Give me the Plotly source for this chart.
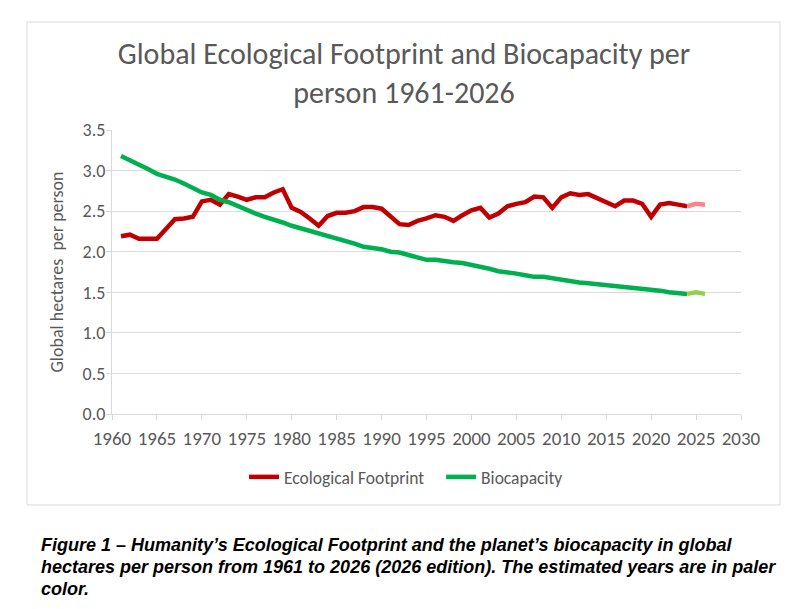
import plotly.graph_objects as go

years = list(range(1961, 2027))
footprint = [2.19, 2.21, 2.16, 2.16, 2.16, 2.28, 2.40, 2.41, 2.43, 2.62,
             2.64, 2.58, 2.71, 2.68, 2.64, 2.67, 2.67, 2.73, 2.77, 2.54,
             2.49, 2.41, 2.32, 2.44, 2.48, 2.48, 2.50, 2.55, 2.55, 2.53,
             2.44, 2.34, 2.33, 2.38, 2.41, 2.45, 2.43, 2.38, 2.45, 2.51,
             2.54, 2.42, 2.47, 2.56, 2.59, 2.61, 2.68, 2.67, 2.54, 2.67,
             2.72, 2.70, 2.71, 2.66, 2.60, 2.56, 2.63, 2.63, 2.59, 2.43,
             2.58, 2.60, 2.58, 2.56, 2.59, 2.58]
biocapacity = [3.18, 3.13, 3.07, 3.02, 2.96, 2.93, 2.89, 2.84, 2.78, 2.73,
               2.70, 2.64, 2.61, 2.56, 2.51, 2.47, 2.43, 2.40, 2.36, 2.32,
               2.29, 2.26, 2.22, 2.20, 2.17, 2.14, 2.10, 2.06, 2.05, 2.03,
               2.00, 1.99, 1.96, 1.93, 1.90, 1.90, 1.88, 1.87, 1.86, 1.84,
               1.82, 1.79, 1.76, 1.75, 1.73, 1.71, 1.69, 1.69, 1.67, 1.65,
               1.64, 1.62, 1.61, 1.60, 1.58, 1.58, 1.57, 1.55, 1.54, 1.53,
               1.52, 1.50, 1.49, 1.48, 1.50, 1.48]
last_measured = 2024
x_ticks = list(range(1960, 2031, 5))
y_ticks = [0.0, 0.5, 1.0, 1.5, 2.0, 2.5, 3.0, 3.5]

title_text = "Global Ecological Footprint and Biocapacity per<br>person 1961-2026"
caption_lines = [
    "Figure 1 – Humanity’s Ecological Footprint and the planet’s biocapacity in global",
    "hectares per person from 1961 to 2026 (2026 edition). The estimated years are in paler",
    "color.",
]

k = years.index(last_measured)
FONT = "Carlito, Lato, sans-serif"
GREY = "#595959"
RED, RED_PALE = "#c00000", "#f4868a"
GREEN, GREEN_PALE = "#00b050", "#92d050"
NB = "\u00a0"

fig = go.Figure()
fig.add_trace(go.Scatter(x=years[:k + 1], y=footprint[:k + 1], mode="lines",
                         name="Ecological Footprint" + NB * 3, line=dict(color=RED, width=4.5)))
fig.add_trace(go.Scatter(x=years[k:], y=footprint[k:], mode="lines", showlegend=False,
                         line=dict(color=RED_PALE, width=4.5)))
fig.add_trace(go.Scatter(x=years[:k + 1], y=biocapacity[:k + 1], mode="lines",
                         name="Biocapacity", line=dict(color=GREEN, width=4.5)))
fig.add_trace(go.Scatter(x=years[k:], y=biocapacity[k:], mode="lines", showlegend=False,
                         line=dict(color=GREEN_PALE, width=4.5)))

OFF = 8  # page body margin
W, H = 809 - OFF, 609 - OFF
L, R, T, B = 112, 741, 130, 414   # plot area in screenshot pixels
def px(X):
    return (X - L) / (R - L)
def py(Y):
    return (B - Y) / (B - T)

fig.update_layout(
    width=W, height=H,
    margin=dict(l=L - OFF, r=W - (R - OFF), t=T - OFF, b=H - (B - OFF), autoexpand=False),
    paper_bgcolor="white", plot_bgcolor="white",
    font=dict(family=FONT, color=GREY),
    title=dict(text=title_text, x=px(404), xref="paper", xanchor="center",
               y=1 - (64 - OFF) / H, yanchor="middle",
               font=dict(family=FONT, size=30, color=GREY)),
    xaxis=dict(range=[1960, 2030], tickvals=x_ticks, showgrid=False,
               showline=True, linecolor="#d9d9d9", linewidth=1,
               ticks="outside", ticklen=5, tickcolor="#d9d9d9",
               ticklabelstandoff=2,
               tickfont=dict(family=FONT, size=19, color=GREY)),
    yaxis=dict(range=[0, 3.5], tickvals=y_ticks, tickformat=".1f",
               showgrid=True, gridcolor="#d9d9d9", gridwidth=1,
               showline=True, linecolor="#d9d9d9", linewidth=1,
               ticks="outside", ticklen=5, tickcolor="#d9d9d9", zeroline=False,
               ticklabelstandoff=-3,
               tickfont=dict(family=FONT, size=18, color=GREY),
               title=dict(text="Global hectares  per person", standoff=14,
                          font=dict(family=FONT, size=18, color=GREY))),
    legend=dict(orientation="h", x=px(406), xanchor="center", y=py(477), yanchor="middle",
                font=dict(family=FONT, size=17.5, color=GREY), itemwidth=30,
                bgcolor="rgba(0,0,0,0)"),
    showlegend=True,
)

fig.add_shape(type="rect", xref="paper", yref="paper",
              x0=px(27), x1=px(780), y0=py(22), y1=py(505),
              line=dict(color="#d9d9d9", width=1), fillcolor="rgba(0,0,0,0)", layer="below")

for line, yy in zip(caption_lines, [545, 567, 589]):
    fig.add_annotation(text="<b><i>" + line + "</i></b>", xref="paper", yref="paper",
                       x=px(39), xanchor="left", y=py(yy), yanchor="middle", showarrow=False,
                       font=dict(family="Liberation Sans Narrow, Arial Narrow, Liberation Sans",
                                 size=18, color="black"))

fig.write_html("out.html")
